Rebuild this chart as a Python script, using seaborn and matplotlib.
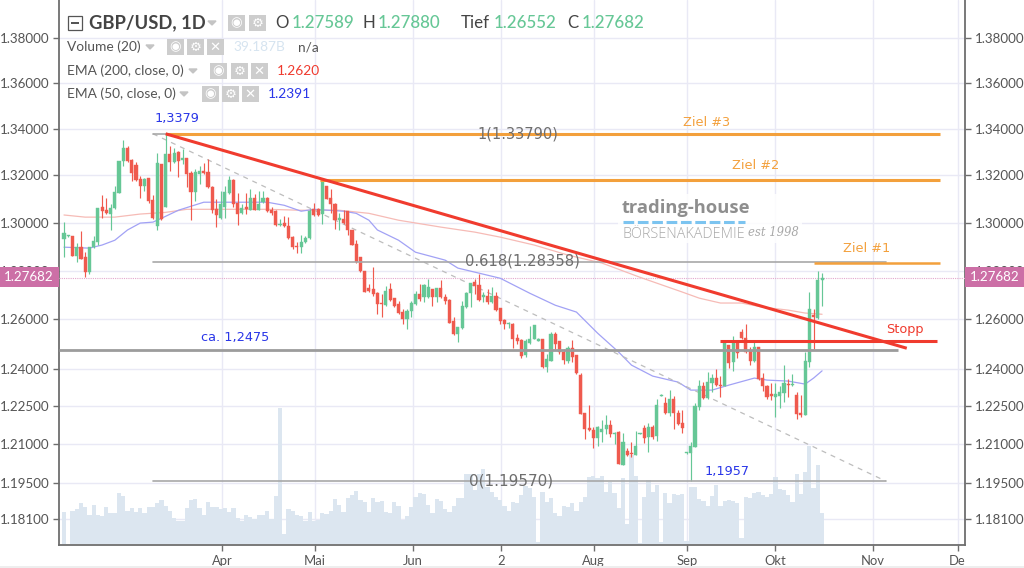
import matplotlib
matplotlib.use("Agg")
import matplotlib.pyplot as plt
import seaborn as sns
import pandas as pd
from matplotlib.patches import Rectangle, Polygon
from matplotlib.ticker import FixedLocator, NullLocator, FixedFormatter

opens = [1.2932,1.2942,1.2942,1.2859,1.2899,1.2856,1.2795,1.2899,1.2920,1.3064,1.3055,1.3038,1.3062,1.3126,1.3261,1.3319,1.3268,1.3244,1.3186,1.3155,
1.3187,1.3095,1.2987,1.3250,1.3067,1.3290,1.3257,1.3299,1.3265,1.3275,1.3209,1.3130,1.3207,1.3220,1.3214,1.3152,1.3059,1.3020,1.3067,1.3126,
1.3179,1.3084,1.3041,1.3067,1.3055,1.3105,1.3055,1.3088,1.3105,1.3055,1.3048,1.2990,1.2998,1.2984,1.2939,1.2902,1.2896,1.2918,1.2934,1.3058,
1.3058,1.3037,1.3155,1.3105,1.3079,1.3013,1.3015,1.3048,1.2967,1.2910,1.2854,1.2800,1.2728,1.2725,1.2709,1.2665,1.2659,1.2723,1.2685,1.2662,
1.2630,1.2600,1.2634,1.2662,1.2703,1.2690,1.2690,1.2724,1.2690,1.2728,1.2692,1.2680,1.2593,1.2540,1.2563,1.2648,1.2706,1.2752,1.2742,1.2690,
1.2696,1.2669,1.2696,1.2644,1.2597,1.2579,1.2582,1.2524,1.2516,1.2455,1.2503,1.2519,1.2513,1.2519,1.2407,1.2431,1.2539,1.2510,1.2468,1.2431,
1.2483,1.2455,1.2375,1.2222,1.2163,1.2156,1.2123,1.2149,1.2160,1.2176,1.2142,1.2149,1.2021,1.2075,1.2064,1.2060,1.2140,1.2163,1.2130,1.2167,
1.2132,1.2292,1.2263,1.2222,1.2280,1.2222,1.2185,1.2064,1.2067,1.2090,1.2248,1.2329,1.2284,1.2342,1.2362,1.2336,1.2329,1.2496,1.2426,1.2502,
1.2549,1.2523,1.2472,1.2432,1.2486,1.2363,1.2331,1.2297,1.2287,1.2291,1.2303,1.2340,1.2333,1.2294,1.2224,1.2215,1.2428,1.2615,1.2605,1.27589]
highs = [1.3001,1.2947,1.2944,1.2913,1.2963,1.2878,1.2899,1.2942,1.3063,1.3115,1.3105,1.3077,1.3155,1.3262,1.3353,1.3325,1.3271,1.3258,1.3197,1.3190,
1.3190,1.3115,1.3294,1.3250,1.3379,1.3325,1.3318,1.3304,1.3314,1.3276,1.3218,1.3228,1.3240,1.3254,1.3271,1.3155,1.3101,1.3133,1.3155,1.3197,
1.3183,1.3126,1.3077,1.3126,1.3140,1.3119,1.3133,1.3133,1.3106,1.3067,1.3055,1.3015,1.3027,1.3024,1.2942,1.2920,1.2949,1.2942,1.3058,1.3084,
1.3062,1.3184,1.3156,1.3140,1.3084,1.3041,1.3055,1.3049,1.2970,1.2925,1.2855,1.2800,1.2745,1.2814,1.2710,1.2703,1.2738,1.2748,1.2687,1.2673,
1.2641,1.2641,1.2676,1.2717,1.2745,1.2745,1.2766,1.2725,1.2728,1.2761,1.2703,1.2683,1.2607,1.2570,1.2676,1.2710,1.2749,1.2766,1.2786,1.2710,
1.2724,1.2731,1.2710,1.2644,1.2600,1.2590,1.2586,1.2540,1.2520,1.2520,1.2574,1.2577,1.2524,1.2520,1.2460,1.2549,1.2549,1.2512,1.2477,1.2490,
1.2516,1.2456,1.2383,1.2223,1.2254,1.2169,1.2170,1.2195,1.2215,1.2195,1.2150,1.2152,1.2143,1.2084,1.2110,1.2153,1.2144,1.2176,1.2185,1.2176,
1.2277,1.2297,1.2287,1.2313,1.2290,1.2235,1.2235,1.2071,1.2110,1.2263,1.2355,1.2346,1.2385,1.2379,1.2399,1.2369,1.2507,1.2497,1.2532,1.2506,
1.2559,1.2581,1.2488,1.2506,1.2488,1.2382,1.2333,1.2342,1.2342,1.2329,1.2414,1.2359,1.2379,1.2307,1.2294,1.2466,1.2710,1.2640,1.2800,1.2788]
lows = [1.2856,1.2941,1.2859,1.2835,1.2848,1.2775,1.2785,1.2892,1.2906,1.3020,1.3037,1.2970,1.3058,1.3125,1.3240,1.3258,1.3176,1.3176,1.3105,1.3133,
1.3081,1.3015,1.2967,1.3013,1.3067,1.3219,1.3254,1.3193,1.3247,1.3152,1.3010,1.3091,1.3162,1.3204,1.3147,1.3041,1.2981,1.3015,1.3020,1.3119,
1.3067,1.2991,1.3037,1.3038,1.3054,1.3052,1.3054,1.3084,1.3045,1.3034,1.2984,1.2984,1.2980,1.2933,1.2889,1.2871,1.2873,1.2913,1.2932,1.3027,
1.3027,1.2996,1.3098,1.3041,1.2973,1.2970,1.2996,1.2946,1.2905,1.2832,1.2793,1.2711,1.2710,1.2696,1.2621,1.2607,1.2655,1.2676,1.2648,1.2621,
1.2579,1.2559,1.2607,1.2658,1.2676,1.2672,1.2687,1.2655,1.2669,1.2687,1.2662,1.2583,1.2537,1.2507,1.2559,1.2645,1.2648,1.2703,1.2676,1.2669,
1.2662,1.2665,1.2634,1.2579,1.2559,1.2565,1.2484,1.2500,1.2441,1.2446,1.2500,1.2518,1.2510,1.2401,1.2387,1.2431,1.2477,1.2457,1.2418,1.2421,
1.2428,1.2379,1.2218,1.2121,1.2153,1.2084,1.2093,1.2110,1.2140,1.2127,1.2101,1.2024,1.2020,1.2054,1.2049,1.2058,1.2139,1.2106,1.2071,1.2119,
1.2114,1.2291,1.2219,1.2211,1.2159,1.2176,1.2143,1.2063,1.1957,1.2089,1.2235,1.2280,1.2280,1.2307,1.2329,1.2287,1.2329,1.2403,1.2392,1.2443,
1.2519,1.2463,1.2416,1.2426,1.2355,1.2311,1.2277,1.2274,1.2209,1.2241,1.2268,1.2287,1.2331,1.2198,1.2209,1.2214,1.2408,1.2479,1.2602,1.26552]
closes = [1.2956,1.2946,1.2861,1.2899,1.2849,1.2795,1.2896,1.2923,1.3062,1.3047,1.3041,1.3061,1.3129,1.3261,1.3319,1.3261,1.3209,1.3180,1.3155,1.3186,
1.3091,1.3020,1.3251,1.3015,1.3290,1.3257,1.3297,1.3261,1.3275,1.3207,1.3130,1.3216,1.3218,1.3209,1.3152,1.3055,1.3034,1.3077,1.3129,1.3179,
1.3077,1.3037,1.3062,1.3058,1.3105,1.3055,1.3079,1.3105,1.3048,1.3041,1.2991,1.2994,1.2984,1.2934,1.2896,1.2896,1.2920,1.2934,1.3048,1.3034,
1.3034,1.3183,1.3101,1.3077,1.3013,1.3020,1.2998,1.2967,1.2906,1.2835,1.2797,1.2712,1.2714,1.2703,1.2662,1.2661,1.2714,1.2679,1.2652,1.2625,
1.2600,1.2632,1.2665,1.2703,1.2683,1.2742,1.2731,1.2690,1.2727,1.2690,1.2676,1.2584,1.2540,1.2569,1.2655,1.2708,1.2748,1.2738,1.2679,1.2699,
1.2669,1.2696,1.2637,1.2593,1.2579,1.2583,1.2520,1.2513,1.2452,1.2513,1.2520,1.2576,1.2519,1.2407,1.2440,1.2539,1.2499,1.2468,1.2434,1.2483,
1.2447,1.2381,1.2219,1.2159,1.2156,1.2126,1.2169,1.2161,1.2176,1.2140,1.2146,1.2025,1.2110,1.2059,1.2062,1.2093,1.2143,1.2126,1.2167,1.2127,
1.2254,1.2296,1.2222,1.2280,1.2222,1.2180,1.2163,1.2070,1.2093,1.2250,1.2329,1.2284,1.2346,1.2362,1.2333,1.2331,1.2506,1.2422,1.2502,1.2463,
1.2522,1.2466,1.2432,1.2486,1.2359,1.2331,1.2287,1.2290,1.2297,1.2307,1.2342,1.2333,1.2340,1.2219,1.2215,1.2432,1.2643,1.2609,1.2761,1.27682]
volumes = [41.4,0,42.6,44.3,52.0,46.9,37.1,49.9,37.1,35.4,46.9,39.7,39.7,64.8,61.4,42.2,46.1,41.4,46.1,39.7,
46.9,46.9,52.0,56.3,48.6,42.2,33.7,29.8,29.8,45.6,56.3,57.6,46.1,37.1,53.3,47.3,46.9,44.3,46.1,41.4,
46.1,33.7,29.8,37.1,34.1,31.6,37.1,37.1,42.6,31.6,61.0,173.5,12.8,44.3,42.2,37.1,35.4,29.8,41.4,29.8,
31.1,39.7,38.4,42.6,57.6,49.9,41.4,59.3,62.7,68.2,56.3,53.3,41.4,59.3,53.3,55.0,41.4,39.7,53.3,48.6,
30.7,35.4,46.9,60.5,64.8,63.5,49.9,39.7,57.6,55.0,44.3,41.4,48.6,59.3,58.4,89.5,89.5,69.1,89.5,95.5,
73.3,66.9,60.5,56.3,48.6,42.6,53.3,52.0,62.7,74.2,71.2,59.7,3.0,66.9,53.3,58.4,40.1,35.4,48.6,46.9,
52.0,42.6,53.3,60.5,86.1,87.0,84.0,87.0,66.9,79.7,64.8,45.6,84.0,25.2,113.9,87.0,1.7,59.7,81.9,66.9,
75.5,3.0,64.8,52.0,64.0,62.7,64.0,4.3,73.3,73.3,57.6,55.4,48.6,61.4,75.5,48.6,55.0,56.3,55.4,52.0,
7.2,59.7,58.4,64.8,66.9,62.7,60.5,64.0,86.1,69.9,69.1,62.7,54.2,89.5,64.0,92.5,125.4,71.2,101.1,39.2]

ema50_bar = [0,6,9,12,15,18,21,23,27,30,33,36,40,48,52,56,59,66,69,72,74,79,83,90,93,98,103,110,116,121,126,131,134,139,145,148,153,157,163,166,171,175,177,179]
ema50_val = [1.2897,1.2893,1.2906,1.2926,1.2969,1.2998,1.3002,1.3018,1.3052,1.3069,1.3086,1.3086,1.3086,1.3086,1.3073,1.3048,1.3056,1.3048,1.3039,1.3010,1.2969,1.2926,1.2876,1.2843,1.2810,1.2789,1.2768,1.2706,1.2657,1.2629,1.2543,1.2466,1.2414,1.2370,1.2346,1.2314,1.2314,1.2334,1.2362,1.2354,1.2350,1.2338,1.2362,1.2391]
ema200_bar = [0,5,12,18,24,29,35,48,56,65,72,79,89,97,103,111,119,127,136,146,150,155,160,165,171,175,179]
ema200_val = [1.3032,1.3023,1.3023,1.3036,1.3043,1.3056,1.3056,1.3056,1.3052,1.3052,1.3039,1.3010,1.2981,1.2960,1.2939,1.2906,1.2864,1.2831,1.2772,1.2711,1.2686,1.2666,1.2666,1.2649,1.2637,1.2625,1.2620]

price_ticks = [1.38,1.36,1.34,1.32,1.30,1.28,1.26,1.24,1.225,1.21,1.195,1.181]
price_labels = ["1.38000","1.36000","1.34000","1.32000","1.30000","1.28000","1.26000","1.24000","1.22500","1.21000","1.19500","1.18100"]
month_bars = [37.3,59.3,82.4,103.2,125.1,147.1,167.9,191,211]
month_labels = ["Apr","Mai","Jun","2","Aug","Sep","Okt","Nov","De"]

last_close = 1.27682
swing_high, swing_low, fib618 = 1.3379, 1.1957, 1.28358
ziel2, ziel1, stopp, support = 1.3180, 1.2831, 1.2511, 1.2475
trend_end = 1.2482

W, H = 1024, 568
GREEN, RED = "#66C796", "#EF5A4E"
ORANGE, LINE_RED = "#F3A03C", "#F03B2E"
GRID, AXC, TXT = "#E9E9F5", "#6E6E6E", "#555555"
PINK = "#CC6FA6"

sns.set_theme(style="white")
plt.rcParams["font.family"] = ["Lato", "DejaVu Sans"]
fig = plt.figure(figsize=(W/100, H/100), dpi=100, facecolor="white")
pos = [59/W, (H-545)/H, (965-59)/W, 545/H]

ax = fig.add_axes(pos, zorder=1)
vol = fig.add_axes(pos, sharex=ax, zorder=2)
price = fig.add_axes(pos, sharex=ax, sharey=ax, zorder=3)
vol.patch.set_visible(False)
price.patch.set_visible(False)

n = len(closes)
bars = list(range(n))
df = pd.DataFrame({"bar": bars, "open": opens, "high": highs, "low": lows, "close": closes, "volume": volumes})

sns.barplot(data=df, x="bar", y="volume", native_scale=True, width=1.0, color="#DCE6F0", saturation=1,
            errorbar=None, linewidth=0, ax=vol, legend=False)
vol.set_ylim(-1.28, 695.9)

ax.set_yscale("log")
ax.set_ylim(1.1712, 1.3971)
ax.set_xlim(-1.18, 212.75)
vol.set_xlim(-1.18, 212.75)
vol.axis("off")
price.axis("off")

ax.yaxis.set_major_locator(FixedLocator(price_ticks))
ax.yaxis.set_major_formatter(FixedFormatter(price_labels))
ax.yaxis.set_minor_locator(NullLocator())
ax.xaxis.set_major_locator(FixedLocator(month_bars))
ax.xaxis.set_major_formatter(FixedFormatter(month_labels))
ax.grid(True, color=GRID, lw=1.0)
ax.set_axisbelow(True)
ax.set_xlabel(""); ax.set_ylabel("")
ax.tick_params(axis="y", which="major", left=True, right=True, labelleft=True, labelright=True,
               length=4, width=1, color=AXC, labelcolor=TXT, labelsize=9.6, pad=3)
ax.tick_params(axis="x", which="major", bottom=True, length=4, width=1, color=AXC, labelcolor=TXT, labelsize=9.4, pad=3)
for s in ["left", "right", "bottom"]:
    ax.spines[s].set_visible(True)
    ax.spines[s].set_color(AXC)
    ax.spines[s].set_linewidth(1.3)
ax.spines["top"].set_visible(False)

# moving averages
sns.lineplot(x=ema200_bar, y=ema200_val, ax=price, color="#F6BBB6", lw=0.9, zorder=2)
sns.lineplot(x=ema50_bar, y=ema50_val, ax=price, color="#A2A2F5", lw=0.9, zorder=2)

# candles
up = df["close"] >= df["open"]
for mask, col in ((up, GREEN), (~up, RED)):
    d = df[mask]
    price.vlines(d["bar"], d["low"], d["high"], color=col, lw=0.85, zorder=3)
    tops = d[["open", "close"]].max(axis=1)
    bots = d[["open", "close"]].min(axis=1)
    price.bar(d["bar"], tops-bots, bottom=bots, width=0.74, color=col, linewidth=0.3, edgecolor=col, zorder=4)

# fibonacci drawing
fib_l, fib_r = 21, 194
for lvl in (swing_high, fib618, swing_low):
    price.plot([fib_l, fib_r], [lvl, lvl], color="#A8A8A8", lw=1.2, zorder=5)
price.plot([fib_l, fib_r], [swing_high, swing_low], color="#BDBDBD", lw=0.9, ls=(0, (4, 4)), zorder=2)

# hand-drawn levels
price.plot([24, 206.8], [swing_high, swing_high], color=ORANGE, lw=2.2, zorder=6, solid_capstyle="butt")
price.plot([60.4, 206.8], [ziel2, ziel2], color=ORANGE, lw=2.2, zorder=6, solid_capstyle="butt")
price.plot([177, 206.8], [ziel1, ziel1], color=ORANGE, lw=1.8, zorder=6, solid_capstyle="butt")
price.plot([-1.18, 196.9], [support, support], color="#9C9C9C", lw=2.0, zorder=5, solid_capstyle="butt")
price.plot([24, 199], [swing_high, trend_end], color=LINE_RED, lw=2.2, zorder=6, solid_capstyle="butt")
price.plot([154.9, 206.1], [stopp, stopp], color=LINE_RED, lw=2.2, zorder=6, solid_capstyle="butt")
price.plot([-1.18, 212.75], [last_close, last_close], color="#E3A8CC", lw=0.8, ls=(0, (1, 1)), zorder=1)


def T(x, y, s, **kw):
    kw.setdefault("va", "center")
    kw.setdefault("ha", "left")
    return fig.text(x/W, 1-y/H, s, zorder=20, **kw)


def R(x0, y0, x1, y1, **kw):
    fig.add_artist(Rectangle((x0/W, 1-y1/H), (x1-x0)/W, (y1-y0)/H, transform=fig.transFigure, zorder=15, **kw))


def caret(x, y):
    fig.add_artist(Polygon([((x-4)/W, 1-(y-2)/H), ((x+4)/W, 1-(y-2)/H), (x/W, 1-(y+2)/H)],
                           transform=fig.transFigure, color="#C4C4C4", zorder=15))


def icons(xs, y, glyphs):
    for x, g in zip(xs, glyphs):
        R(x, y-8, x+16.5, y+8, color="#CDCDCD", lw=0)
        T(x+8.2, y, g, ha="center", color="white", fontsize=9.5, family="DejaVu Sans")


# last price tags
R(0, 267, 59, 287, color=PINK, lw=0)
R(965, 267, 1024, 287, color=PINK, lw=0)
T(29, 277, "1.27682", ha="center", color="white", fontsize=9.6)
T(995, 277, "1.27682", ha="center", color="white", fontsize=9.6)

# header
R(68, 16, 82, 30, fill=False, ec="#555555", lw=0.9)
R(71, 22.5, 79, 23.5, color="#555555", lw=0)
T(89, 23, "GBP/USD, 1D", color="#444444", fontsize=13.2, fontweight="bold")
caret(212, 23)
icons([228, 249], 23, ["◉", "⚙"])
for x, s, c in [(275, "O", "#444444"), (292, "1.27589", GREEN), (363, "H", "#444444"), (378, "1.27880", GREEN),
                (461, "Tief", "#444444"), (494, "1.26552", GREEN), (567, "C", "#444444"), (582, "1.27682", GREEN)]:
    T(x, 23, s, color=c, fontsize=12.2, fontweight="medium" if c == GREEN else "normal")

for y, s, cx, xs, vx, v, vc in [
    (47, "Volume (20)", 150, [167, 187, 207], 233, "39.187B", "#D6E4F0"),
    (71, "EMA (200, close, 0)", 193, [210, 231, 251], 277, "1.2620", "#EF3A2E"),
    (94, "EMA (50, close, 0)", 184, [202, 222, 242], 268, "1.2391", "#2A36E8"),
]:
    T(67, y, s, color="#555555", fontsize=9.9)
    caret(cx, y)
    icons(xs, y, ["◉", "⚙", "✕"])
    T(vx, y, v, color=vc, fontsize=9.9)
T(298, 47, "n/a", color="#555555", fontsize=9.9)

# annotations
DJ = "DejaVu Sans"
T(177, 118, "1,3379", ha="center", color="#2A36E8", fontsize=9.3, family=DJ)
T(235, 338, "ca. 1,2475", ha="center", color="#2A36E8", fontsize=9.3, family=DJ)
T(727, 471, "1,1957", ha="center", color="#2A36E8", fontsize=9.3, family=DJ)
T(707, 122, "Ziel #3", ha="center", color=ORANGE, fontsize=9.3, family=DJ)
T(756, 166, "Ziel #2", ha="center", color=ORANGE, fontsize=9.3, family=DJ)
T(867, 248, "Ziel #1", ha="center", color=ORANGE, fontsize=9.3, family=DJ)
T(905, 330, "Stopp", ha="center", color=LINE_RED, fontsize=9.3, family=DJ)
T(518, 134, "1(1.33790)", ha="center", color="#6E6E6E", fontsize=10.5, family=DJ)
T(522, 261, "0.618(1.28358)", ha="center", color="#6E6E6E", fontsize=10.6, family=DJ)
T(511, 481, "0(1.19570)", ha="center", color="#6E6E6E", fontsize=11, family=DJ)

# watermark
R(618, 194, 802, 243, color="white", lw=0, alpha=0.85)
T(622, 208, "trading-house", color="#8E8E8E", fontsize=13.2, fontweight="bold", family="Open Sans")
fig.add_artist(plt.Line2D([623/W, 745/W], [1-222/H, 1-222/H], transform=fig.transFigure, color="#7CC4F0",
                          lw=2.2, ls=(0, (3.5, 1.2)), zorder=16))
T(622, 234, "BÖRSENAKADEMIE", color="#A9A9A9", fontsize=10.4, family="Open Sans", fontweight="light")
T(748, 233, "est 1998", color="#A9A9A9", fontsize=8.4, family="DejaVu Serif", style="italic")

R(0, 566, W, 568, color="#EEEEEE", lw=0)

fig.savefig("out.png", dpi=100)
